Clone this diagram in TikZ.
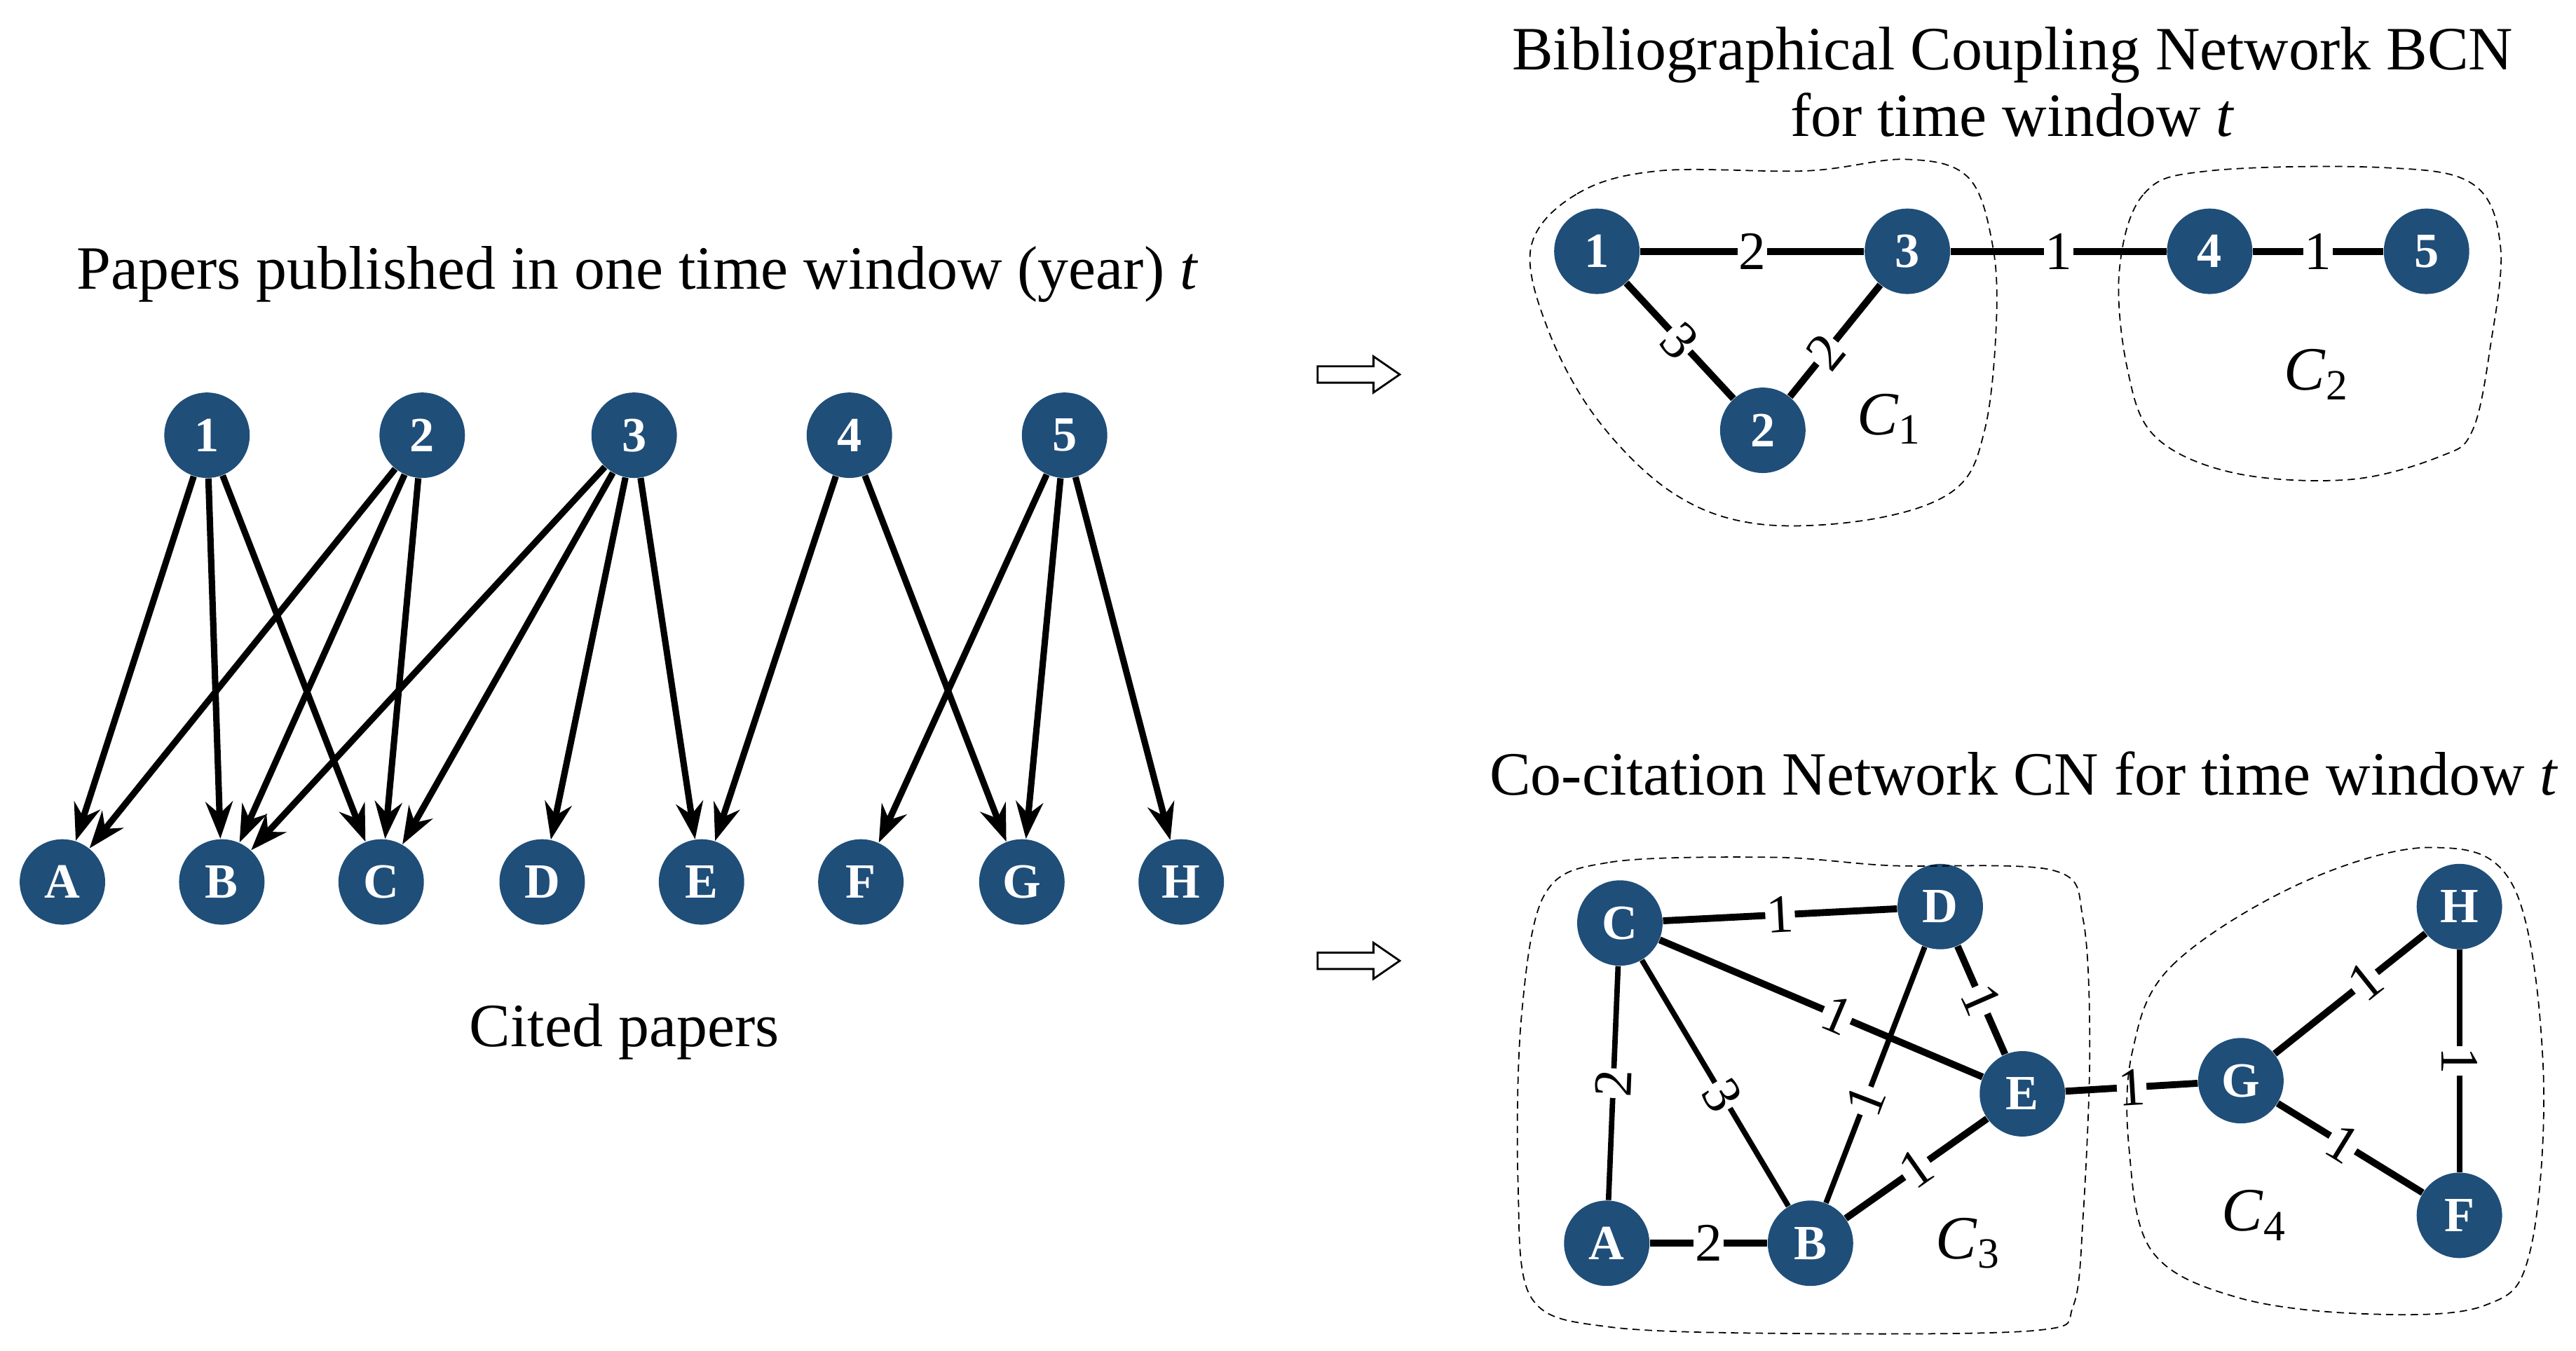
\documentclass[tikz,border=0pt]{standalone}
\usepackage{fontspec}
\setmainfont{Liberation Serif}
\usetikzlibrary{arrows.meta}
\definecolor{nb}{RGB}{31,78,121}
\begin{document}
\begin{tikzpicture}[x=0.02344cm,y=-0.02344cm,
  nd/.style={circle,fill=nb,minimum size=52*0.02344cm,inner sep=0pt,text=white,font=\fontsize{20}{22}\selectfont\bfseries},
  ttl/.style={font=\fontsize{25}{29}\selectfont},
  arr/.style={line width=2.6pt,-{Stealth[length=15pt,width=11pt]}},
  ed/.style={line width=2.8pt},
  edt/.style={line width=2.2pt},
  lb/.style={fill=white,inner sep=0.5pt,font=\fontsize{22}{22}\selectfont,sloped},
  blob/.style={densely dashed,line width=0.5pt},
  hol/.style={line width=0.8pt}]
\useasboundingbox (0,0) rectangle (1568,822.6);
% left part
\node[ttl] (t1) at (388,167) {Papers published in one time window (year) \textit{t}};
\node[ttl] (t2) at (380,628) {Cited papers};
\foreach \n/\x in {1/126,2/257,3/386,4/517,5/648} \node[nd] (p\n) at (\x,265) {\n};
\foreach \n/\x in {A/38,B/135,C/232,D/330,E/427,F/524,G/622,H/719} \node[nd] (q\n) at (\x,537) {\n};
\foreach \a/\b in {1/A,1/B,1/C,2/A,2/B,2/C,3/B,3/C,3/D,3/E,4/E,4/G,5/F,5/G,5/H}
  \draw[arr] (p\a) -- (q\b);
% hollow arrows
\foreach \yy [count=\i] in {228,585}{
  \draw[hol] (802,\yy-5) -- (836,\yy-5) -- (836,\yy-11) -- (852,\yy) -- (836,\yy+11) -- (836,\yy+5) -- (802,\yy+5) -- cycle;}
% BCN
\node[ttl,align=center] (t3) at (1225,50) {Bibliographical Coupling Network BCN\\[-2pt]for time window \textit{t}};
\node[nd] (b1) at (972,153) {1};
\node[nd] (b3) at (1161,153) {3};
\node[nd] (b4) at (1345,153) {4};
\node[nd] (b5) at (1477,153) {5};
\node[nd] (b2) at (1073,262) {2};
\draw[ed] (b1) -- node[lb]{2} (b3);
\draw[ed] (b3) -- node[lb]{1} (b4);
\draw[ed] (b4) -- node[lb]{1} (b5);
\draw[ed] (b1) -- node[lb]{3} (b2);
\draw[ed] (b2) -- node[lb,pos=0.4]{2} (b3);
\node[ttl] (c1) at (1150,255) {\textit{C}\textsubscript{1}};
\node[ttl] (c2) at (1410,228) {\textit{C}\textsubscript{2}};
\draw[blob] plot[smooth cycle,tension=0.6] coordinates {(932,150) (960,118) (1010,104) (1100,104) (1160,97) (1198,108) (1213,150) (1215,200) (1208,262) (1190,298) (1140,316) (1070,319) (1018,300) (972,255) (942,200)};
\draw[blob] plot[smooth cycle,tension=0.6] coordinates {(1290,165) (1305,118) (1345,104) (1450,102) (1505,112) (1522,150) (1516,210) (1505,262) (1485,278) (1430,292) (1360,288) (1312,266) (1295,225)};
% CN
\node[ttl] (t4) at (1232,471) {Co-citation Network CN for time window \textit{t}};
\node[nd] (C) at (986,562) {C};
\node[nd] (D) at (1181,552) {D};
\node[nd] (E) at (1231,666) {E};
\node[nd] (A) at (978,757) {A};
\node[nd] (B) at (1102,757) {B};
\node[nd] (G) at (1364,658) {G};
\node[nd] (H) at (1497,552) {H};
\node[nd] (F) at (1497,740) {F};
\draw[ed] (C) -- node[lb]{1} (D);
\draw[ed] (C) -- node[lb,pos=0.55]{1} (E);
\draw[ed] (D) -- node[lb]{1} (E);
\draw[edt] (D) -- node[lb,pos=0.6]{1} (B);
\draw[edt] (C) -- node[lb,pos=0.55]{3} (B);
\draw[edt] (C) -- node[lb]{2} (A);
\draw[ed] (A) -- node[lb]{2} (B);
\draw[ed] (B) -- node[lb]{1} (E);
\draw[ed] (E) -- node[lb]{1} (G);
\draw[ed] (G) -- node[lb,pos=0.6]{1} (H);
\draw[ed] (G) -- node[lb,pos=0.45]{1} (F);
\draw[edt] (H) -- node[lb]{1} (F);
\node[ttl] (c3) at (1198,757) {\textit{C}\textsubscript{3}};
\node[ttl] (c4) at (1372,740) {\textit{C}\textsubscript{4}};
\draw[blob] plot[smooth cycle,tension=0.55] coordinates {(940,545) (980,525) (1080,522) (1150,527) (1250,530) (1268,560) (1272,640) (1268,740) (1262,795) (1240,810) (1100,812) (980,808) (932,790) (924,720) (926,620)};
\draw[blob] plot[smooth cycle,tension=0.6] coordinates {(1298,640) (1322,588) (1400,538) (1480,516) (1530,540) (1548,650) (1540,762) (1512,795) (1440,800) (1362,790) (1310,762) (1296,700)};
\end{tikzpicture}
\end{document}
